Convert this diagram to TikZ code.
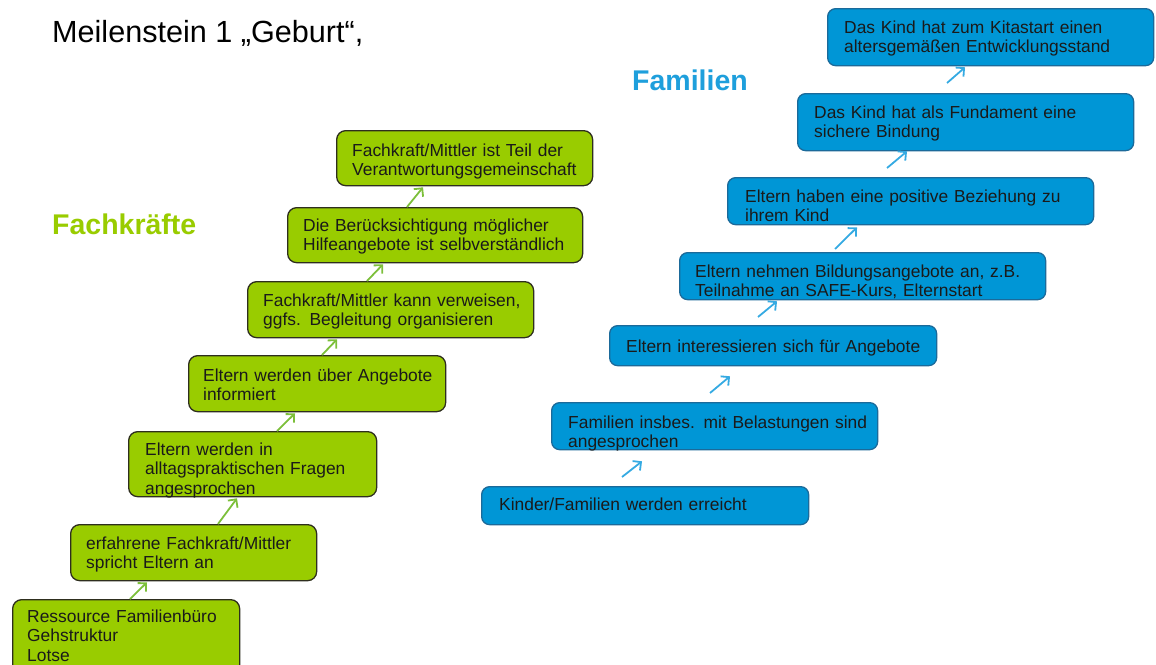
\documentclass[tikz,border=0pt]{standalone}
\usepackage{fontspec}
\setmainfont{Liberation Sans}
\usetikzlibrary{arrows.meta,calc}
\definecolor{gfill}{HTML}{99CC00}
\definecolor{gdraw}{HTML}{2E2E1E}
\definecolor{bfill}{HTML}{0096D6}
\definecolor{bdraw}{HTML}{1B6A9A}
\definecolor{garrowc}{HTML}{7CBF3A}
\definecolor{barrowc}{HTML}{35AAE2}
\definecolor{gtitle}{HTML}{99CC00}
\definecolor{btitle}{HTML}{1E9FDC}
\definecolor{txt}{HTML}{1A1A1A}
\begin{document}
\begin{tikzpicture}[x=1pt,y=-1pt,
  gbox/.style={draw=gdraw, fill=gfill, line width=1.3pt, rounded corners=9pt, anchor=north west, inner sep=0pt},
  bbox/.style={draw=bdraw, fill=bfill, line width=1.3pt, rounded corners=8pt, anchor=north west, inner sep=0pt},
  boxtext/.style={anchor=base west, inner sep=0pt, text width=380pt, align=left, text=txt, font=\fontsize{17.4}{19.5}\selectfont},
  garrow/.style={draw=garrowc, line width=1.8pt, -{Straight Barb[length=6pt,width=12pt]}},
  barrow/.style={draw=barrowc, line width=1.8pt, -{Straight Barb[length=6pt,width=12pt]}}]
\useasboundingbox (0,0) rectangle (1156,664);
\clip (0,0) rectangle (1156,664);

% titles
\node[anchor=base west, inner sep=0pt, font=\fontsize{30.6}{36}\selectfont] (title) at (52,42) {Meilenstein 1 „Geburt“,};
\node[anchor=base west, inner sep=0pt, font=\fontsize{28.5}{33}\selectfont\bfseries, text=gtitle] (fk) at (52,234) {Fachkräfte};
\node[anchor=base west, inner sep=0pt, font=\fontsize{28.5}{33}\selectfont\bfseries, text=btitle] (fam) at (632,90) {Familien};

% green boxes
\node[gbox, minimum width=227pt, minimum height=80pt] (g1) at (12,599) {};
\node[gbox, minimum width=246pt, minimum height=56pt] (g2) at (70,524) {};
\node[gbox, minimum width=248pt, minimum height=65pt] (g3) at (128,431) {};
\node[gbox, minimum width=257pt, minimum height=56pt] (g4) at (188,355) {};
\node[gbox, minimum width=286pt, minimum height=56pt] (g5) at (247,281) {};
\node[gbox, minimum width=295pt, minimum height=55pt] (g6) at (287,207) {};
\node[gbox, minimum width=256pt, minimum height=55pt] (g7) at (336,130) {};

\node[boxtext] (tg1) at (27,622) {Ressource Familienbüro\\Gehstruktur\\Lotse};
\node[boxtext] (tg2) at (86,549) {erfahrene Fachkraft/Mittler\\spricht Eltern an};
\node[boxtext] (tg3) at (145,455) {Eltern werden in\\alltagspraktischen Fragen\\angesprochen};
\node[boxtext] (tg4) at (203,381) {Eltern werden über Angebote\\informiert};
\node[boxtext] (tg5) at (263,306) {Fachkraft/Mittler kann verweisen,\\ggfs. Begleitung organisieren};
\node[boxtext] (tg6) at (303,231) {Die Berücksichtigung möglicher\\Hilfeangebote ist selbverständlich};
\node[boxtext] (tg7) at (352,156) {Fachkraft/Mittler ist Teil der\\Verantwortungsgemeinschaft};

% green arrows
\draw[garrow] ($(g1.north west)+(118,0)$) -- ($(g2.south west)+(77,1)$);
\draw[garrow] ($(g2.north west)+(148,0)$) -- ($(g3.south west)+(109,1)$);
\draw[garrow] ($(g3.north west)+(149,0)$) -- ($(g4.south west)+(107,1)$);
\draw[garrow] ($(g4.north west)+(134,0)$) -- ($(g5.south west)+(90,1)$);
\draw[garrow] ($(g5.north west)+(120,0)$) -- ($(g6.south west)+(96,1)$);
\draw[garrow] ($(g6.north west)+(120,0)$) -- ($(g7.south west)+(87,1)$);

% blue boxes
\node[bbox, minimum width=327pt, minimum height=38pt] (b1) at (481,486) {};
\node[bbox, minimum width=326pt, minimum height=47pt] (b2) at (551,402) {};
\node[bbox, minimum width=327pt, minimum height=40pt] (b3) at (609,325) {};
\node[bbox, minimum width=366pt, minimum height=47pt] (b4) at (679,252) {};
\node[bbox, minimum width=366pt, minimum height=47pt] (b5) at (727,177) {};
\node[bbox, minimum width=336pt, minimum height=57pt] (b6) at (797,93) {};
\node[bbox, minimum width=326pt, minimum height=57pt] (b7) at (827,8) {};

\node[boxtext] (tb1) at (499,510) {Kinder/Familien werden erreicht};
\node[boxtext] (tb2) at (568,428) {Familien insbes. mit Belastungen sind\\angesprochen};
\node[boxtext] (tb3) at (626,352) {Eltern interessieren sich für Angebote};
\node[boxtext] (tb4) at (695,277) {Eltern nehmen Bildungsangebote an, z.B.\\Teilnahme an SAFE-Kurs, Elternstart};
\node[boxtext] (tb5) at (745,202) {Eltern haben eine positive Beziehung zu\\ihrem Kind};
\node[boxtext] (tb6) at (814,118) {Das Kind hat als Fundament eine\\sichere Bindung};
\node[boxtext] (tb7) at (844,33) {Das Kind hat zum Kitastart einen\\altersgemäßen Entwicklungsstand};

% blue arrows
\draw[barrow] ($(b1.north west)+(141,-9)$) -- ($(b2.south west)+(91,11)$);
\draw[barrow] ($(b2.north west)+(159,-9)$) -- ($(b3.south west)+(121,10)$);
\draw[barrow] ($(b3.north west)+(149,-8)$) -- ($(b4.south west)+(98,1)$);
\draw[barrow] ($(b4.north west)+(156,-3)$) -- ($(b5.south west)+(130,2)$);
\draw[barrow] ($(b5.north west)+(160,-9)$) -- ($(b6.south west)+(110,0)$);
\draw[barrow] ($(b6.north west)+(150,-10)$) -- ($(b7.south west)+(138,1)$);
\end{tikzpicture}
\end{document}
